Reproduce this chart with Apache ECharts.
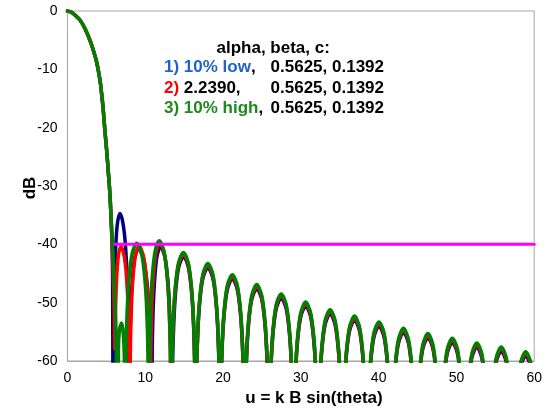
<!DOCTYPE html>
<html>
<head>
<meta charset="utf-8">
<script src="https://cdn.jsdelivr.net/npm/echarts/dist/echarts.min.js"></script>
<style>html,body{margin:0;padding:0;background:#fff}#c{width:545px;height:419px}</style>
</head>
<body>
<div id="c"></div>
<script>
// ---- data (u, dB) ----
const xTicks = [0, 10, 20, 30, 40, 50, 60];
const yTicks = [0, -10, -20, -30, -40, -50, -60];

const mainLobe = [[0,0],[0.5,-0.2],[0.96,-0.7],[1.6,-1.55],[2.24,-3.0],[2.88,-5.0],[3.31,-6.7],[3.74,-8.7],[4.17,-11.8],[4.38,-14.1],[4.6,-17.0],[4.8,-20.4],[5.03,-23.8],[5.23,-27.3],[5.45,-31.3]];

const blueNear = [[5.6,-35.5],[5.72,-40],[5.8,-46],[5.87,-80],[5.95,-55],[6.05,-46],[6.2,-40.5],[6.4,-36.6],[6.73,-34.7],[7.05,-35.8],[7.35,-38.6],[7.6,-43.5],[7.78,-50],[7.9,-80],[7.98,-59.9],[8.1,-52.3],[8.3,-46.8],[8.62,-42.5],[9.1,-40.7],[9.78,-42.5],[10.24,-46.8],[10.51,-52.3],[10.68,-59.9],[10.8,-80],[10.88,-59.6],[10.99,-52],[11.18,-46.5],[11.48,-42.2],[11.94,-40.4],[12.52,-42.2],[12.92,-46.5],[13.15,-52],[13.3,-59.6],[13.4,-80]];

const blueFar = [[13.5,-61.3],[13.66,-53.7],[13.9,-48.2],[14.3,-43.9],[14.93,-42.1],[15.53,-43.9],[15.95,-48.2],[16.2,-53.7],[16.36,-61.3],[16.47,-80],
[16.58,-63.2],[16.74,-55.6],[16.99,-50.1],[17.41,-45.8],[18.04,-44.0],[18.68,-45.8],[19.1,-50.1],[19.35,-55.6],[19.51,-63.2],[19.62,-80],
[19.73,-65.1],[19.89,-57.5],[20.14,-52],[20.56,-47.7],[21.19,-45.9],[21.82,-47.7],[22.24,-52],[22.49,-57.5],[22.65,-65.1],[22.76,-80],
[22.87,-66.8],[23.03,-59.2],[23.28,-53.7],[23.7,-49.4],[24.33,-47.6],[24.96,-49.4],[25.38,-53.7],[25.63,-59.2],[25.79,-66.8],[25.9,-80],
[26.01,-68.4],[26.17,-60.8],[26.42,-55.3],[26.84,-51],[27.47,-49.2],[28.11,-51],[28.53,-55.3],[28.78,-60.8],[28.94,-68.4],[29.05,-80],
[29.16,-69.8],[29.32,-62.2],[29.57,-56.7],[29.99,-52.4],[30.62,-50.6],[31.25,-52.4],[31.67,-56.7],[31.92,-62.2],[32.08,-69.8],[32.19,-80],
[32.3,-71.1],[32.46,-63.5],[32.71,-58],[33.13,-53.7],[33.76,-51.9],[34.39,-53.7],[34.81,-58],[35.06,-63.5],[35.22,-71.1],[35.33,-80],
[35.44,-72.2],[35.6,-64.6],[35.85,-59.1],[36.27,-54.8],[36.9,-53],[37.53,-54.8],[37.95,-59.1],[38.2,-64.6],[38.36,-72.2],[38.47,-80],
[38.58,-73.2],[38.74,-65.6],[38.99,-60.1],[39.41,-55.8],[40.04,-54],[40.68,-55.8],[41.1,-60.1],[41.35,-65.6],[41.51,-73.2],[41.62,-80],
[41.73,-74.3],[41.89,-66.7],[42.14,-61.2],[42.56,-56.9],[43.19,-55.1],[43.82,-56.9],[44.24,-61.2],[44.49,-66.7],[44.65,-74.3],[44.76,-80],
[44.87,-75.2],[45.03,-67.6],[45.28,-62.1],[45.7,-57.8],[46.33,-56],[46.96,-57.8],[47.38,-62.1],[47.63,-67.6],[47.79,-75.2],[47.9,-80],
[48.01,-76],[48.17,-68.4],[48.42,-62.9],[48.84,-58.6],[49.47,-56.8],[50.11,-58.6],[50.53,-62.9],[50.78,-68.4],[50.94,-76],[51.05,-80],
[51.16,-76.8],[51.32,-69.2],[51.57,-63.7],[51.99,-59.4],[52.62,-57.6],[53.25,-59.4],[53.67,-63.7],[53.92,-69.2],[54.08,-76.8],[54.19,-80],
[54.3,-77.5],[54.46,-69.9],[54.71,-64.4],[55.13,-60.1],[55.76,-58.3],[56.39,-60.1],[56.81,-64.4],[57.06,-69.9],[57.22,-77.5],[57.33,-80],
[57.44,-78.3],[57.6,-70.7],[57.85,-65.2],[58.27,-60.9],[58.9,-59.1],[59.54,-60.9],[59.96,-65.2],[60.21,-70.7],[60.37,-78.3],[60.48,-80]];

const redNear = [[5.65,-37],[5.85,-44],[6.0,-51],[6.09,-58],[6.2,-50],[6.35,-45],[6.55,-41.8],[6.86,-40.4],[7.15,-41.2],[7.45,-43.5],[7.7,-48],[7.88,-55],[7.98,-80],[8.07,-59.5],[8.19,-51.9],[8.38,-46.4],[8.71,-42.1],[9.2,-40.3],[9.78,-42.1],[10.17,-46.4],[10.4,-51.9],[10.52,-59.5],[10.62,-80],[10.71,-59],[10.83,-51.4],[11.03,-45.9],[11.36,-41.6],[11.85,-39.8],[12.44,-41.6],[12.84,-45.9],[13.08,-51.4],[13.23,-59],[13.33,-80]];

const redFar = [[13.44,-60.9],[13.6,-53.3],[13.85,-47.8],[14.27,-43.5],[14.9,-41.7],[15.53,-43.5],[15.95,-47.8],[16.2,-53.3],[16.36,-60.9],[16.47,-80],
[16.58,-62.8],[16.74,-55.2],[16.99,-49.7],[17.41,-45.4],[18.04,-43.6],[18.68,-45.4],[19.1,-49.7],[19.35,-55.2],[19.51,-62.8],[19.62,-80],
[19.73,-64.7],[19.89,-57.1],[20.14,-51.6],[20.56,-47.3],[21.19,-45.5],[21.82,-47.3],[22.24,-51.6],[22.49,-57.1],[22.65,-64.7],[22.76,-80],
[22.87,-66.4],[23.03,-58.8],[23.28,-53.3],[23.7,-49],[24.33,-47.2],[24.96,-49],[25.38,-53.3],[25.63,-58.8],[25.79,-66.4],[25.9,-80],
[26.01,-68],[26.17,-60.4],[26.42,-54.9],[26.84,-50.6],[27.47,-48.8],[28.11,-50.6],[28.53,-54.9],[28.78,-60.4],[28.94,-68],[29.05,-80],
[29.16,-69.4],[29.32,-61.8],[29.57,-56.3],[29.99,-52],[30.62,-50.2],[31.25,-52],[31.67,-56.3],[31.92,-61.8],[32.08,-69.4],[32.19,-80],
[32.3,-70.7],[32.46,-63.1],[32.71,-57.6],[33.13,-53.3],[33.76,-51.5],[34.39,-53.3],[34.81,-57.6],[35.06,-63.1],[35.22,-70.7],[35.33,-80],
[35.44,-71.8],[35.6,-64.2],[35.85,-58.7],[36.27,-54.4],[36.9,-52.6],[37.53,-54.4],[37.95,-58.7],[38.2,-64.2],[38.36,-71.8],[38.47,-80],
[38.58,-72.8],[38.74,-65.2],[38.99,-59.7],[39.41,-55.4],[40.04,-53.6],[40.68,-55.4],[41.1,-59.7],[41.35,-65.2],[41.51,-72.8],[41.62,-80],
[41.73,-73.9],[41.89,-66.3],[42.14,-60.8],[42.56,-56.5],[43.19,-54.7],[43.82,-56.5],[44.24,-60.8],[44.49,-66.3],[44.65,-73.9],[44.76,-80],
[44.87,-74.8],[45.03,-67.2],[45.28,-61.7],[45.7,-57.4],[46.33,-55.6],[46.96,-57.4],[47.38,-61.7],[47.63,-67.2],[47.79,-74.8],[47.9,-80],
[48.01,-75.6],[48.17,-68],[48.42,-62.5],[48.84,-58.2],[49.47,-56.4],[50.11,-58.2],[50.53,-62.5],[50.78,-68],[50.94,-75.6],[51.05,-80],
[51.16,-76.4],[51.32,-68.8],[51.57,-63.3],[51.99,-59],[52.62,-57.2],[53.25,-59],[53.67,-63.3],[53.92,-68.8],[54.08,-76.4],[54.19,-80],
[54.3,-77.1],[54.46,-69.5],[54.71,-64],[55.13,-59.7],[55.76,-57.9],[56.39,-59.7],[56.81,-64],[57.06,-69.5],[57.22,-77.1],[57.33,-80],
[57.44,-77.9],[57.6,-70.3],[57.85,-64.8],[58.27,-60.5],[58.9,-58.7],[59.54,-60.5],[59.96,-64.8],[60.21,-70.3],[60.37,-77.9],[60.48,-80]];

const greenNear = [[5.65,-36.5],[5.85,-42],[6.05,-48],[6.25,-56],[6.4,-80],[6.55,-58],[6.7,-54.5],[6.95,-53.5],[7.15,-55],[7.3,-59],[7.42,-80],[7.52,-59],[7.67,-51.4],[7.91,-45.9],[8.31,-41.6],[8.9,-39.8],[9.52,-41.6],[9.94,-45.9],[10.19,-51.4],[10.34,-59],[10.45,-80],[10.55,-58.6],[10.68,-51],[10.9,-45.5],[11.26,-41.2],[11.8,-39.4],[12.41,-41.2],[12.83,-45.5],[13.07,-51],[13.22,-58.6],[13.33,-80]];

const greenFar = [[13.44,-60.6],[13.6,-53],[13.85,-47.5],[14.27,-43.2],[14.9,-41.4],[15.53,-43.2],[15.95,-47.5],[16.2,-53],[16.36,-60.6],[16.47,-80],
[16.58,-62.5],[16.74,-54.9],[16.99,-49.4],[17.41,-45.1],[18.04,-43.3],[18.68,-45.1],[19.1,-49.4],[19.35,-54.9],[19.51,-62.5],[19.62,-80],
[19.73,-64.4],[19.89,-56.8],[20.14,-51.3],[20.56,-47.0],[21.19,-45.2],[21.82,-47.0],[22.24,-51.3],[22.49,-56.8],[22.65,-64.4],[22.76,-80],
[22.87,-66.1],[23.03,-58.5],[23.28,-53],[23.7,-48.7],[24.33,-46.9],[24.96,-48.7],[25.38,-53],[25.63,-58.5],[25.79,-66.1],[25.9,-80],
[26.01,-67.7],[26.17,-60.1],[26.42,-54.6],[26.84,-50.3],[27.47,-48.5],[28.11,-50.3],[28.53,-54.6],[28.78,-60.1],[28.94,-67.7],[29.05,-80],
[29.16,-69.1],[29.32,-61.5],[29.57,-56],[29.99,-51.7],[30.62,-49.9],[31.25,-51.7],[31.67,-56],[31.92,-61.5],[32.08,-69.1],[32.19,-80],
[32.3,-70.4],[32.46,-62.8],[32.71,-57.3],[33.13,-53],[33.76,-51.2],[34.39,-53],[34.81,-57.3],[35.06,-62.8],[35.22,-70.4],[35.33,-80],
[35.44,-71.5],[35.6,-63.9],[35.85,-58.4],[36.27,-54.1],[36.9,-52.3],[37.53,-54.1],[37.95,-58.4],[38.2,-63.9],[38.36,-71.5],[38.47,-80],
[38.58,-72.5],[38.74,-64.9],[38.99,-59.4],[39.41,-55.1],[40.04,-53.3],[40.68,-55.1],[41.1,-59.4],[41.35,-64.9],[41.51,-72.5],[41.62,-80],
[41.73,-73.6],[41.89,-66],[42.14,-60.5],[42.56,-56.2],[43.19,-54.4],[43.82,-56.2],[44.24,-60.5],[44.49,-66],[44.65,-73.6],[44.76,-80],
[44.87,-74.5],[45.03,-66.9],[45.28,-61.4],[45.7,-57.1],[46.33,-55.3],[46.96,-57.1],[47.38,-61.4],[47.63,-66.9],[47.79,-74.5],[47.9,-80],
[48.01,-75.3],[48.17,-67.7],[48.42,-62.2],[48.84,-57.9],[49.47,-56.1],[50.11,-57.9],[50.53,-62.2],[50.78,-67.7],[50.94,-75.3],[51.05,-80],
[51.16,-76.1],[51.32,-68.5],[51.57,-63],[51.99,-58.7],[52.62,-56.9],[53.25,-58.7],[53.67,-63],[53.92,-68.5],[54.08,-76.1],[54.19,-80],
[54.3,-76.8],[54.46,-69.2],[54.71,-63.7],[55.13,-59.4],[55.76,-57.6],[56.39,-59.4],[56.81,-63.7],[57.06,-69.2],[57.22,-76.8],[57.33,-80],
[57.44,-77.6],[57.6,-70],[57.85,-64.5],[58.27,-60.2],[58.9,-58.4],[59.54,-60.2],[59.96,-64.5],[60.21,-70],[60.37,-77.6],[60.48,-80]];

const limitLine = [[6.09,-40],[60,-40]];

const titleLine = 'alpha, beta, c:';
const caseLabels = ['1) 10% low', '2)', '3) 10% high'];
const caseRest = [',', ' 2.2390,', ','];
const paramText = '0.5625, 0.1392';

// ---- chart ----
const chart = echarts.init(document.getElementById('c'), null, {renderer: 'canvas'});
const FONT = '"Liberation Sans", Arial, sans-serif';
const lineS = (name, color, data, w, smooth) => ({
  name, type: 'line', data, showSymbol: false, symbol: 'none', clip: true, smooth: smooth,
  lineStyle: {color, width: w, cap: 'round', join: 'round'}, itemStyle: {color},
  silent: true, animation: false, z: 2
});

const labelColors = ['#1f62cc', '#ff0000', '#1e8a1e'];
const lineY = [67.5, 88.3, 108.5];
const graphics = [
  {type: 'text', x: 216.5, y: 48, style: {text: titleLine, font: 'bold 17px ' + FONT, fill: '#000', align: 'left', verticalAlign: 'middle'}}
];
for (let i = 0; i < 3; i++) {
  graphics.push({type: 'text', x: 164, y: lineY[i], style: {
    text: '{c|' + caseLabels[i] + '}{k|' + caseRest[i] + '}',
    align: 'left', verticalAlign: 'middle',
    rich: {c: {font: 'bold 17px ' + FONT, fill: labelColors[i]}, k: {font: 'bold 17px ' + FONT, fill: '#000'}}
  }});
  graphics.push({type: 'text', x: 384, y: lineY[i], style: {text: paramText, font: 'bold 17px ' + FONT, fill: '#000', align: 'right', verticalAlign: 'middle'}});
}
graphics.push({type: 'text', x: 314, y: 398, style: {text: 'u = k B sin(theta)', font: 'bold 17px ' + FONT, fill: '#000', align: 'center', verticalAlign: 'middle'}});
graphics.push({type: 'text', x: 30, y: 188, rotation: Math.PI / 2, style: {text: 'dB', font: 'bold 17px ' + FONT, fill: '#000', align: 'center', verticalAlign: 'middle'}});

chart.setOption({
  animation: false,
  backgroundColor: '#fff',
  grid: {left: 67.5, right: 10, top: 11, bottom: 58, show: true, borderColor: '#a6a6a6', borderWidth: 1, backgroundColor: 'transparent'},
  xAxis: {
    type: 'value', min: xTicks[0], max: xTicks[xTicks.length - 1], interval: 10,
    axisLine: {show: true, onZero: false, lineStyle: {color: '#a6a6a6', width: 1}},
    axisTick: {show: false}, splitLine: {show: false},
    axisLabel: {color: '#000', fontFamily: FONT, fontSize: 14, margin: 10}
  },
  yAxis: {
    type: 'value', min: yTicks[yTicks.length - 1], max: yTicks[0], interval: 10,
    axisLine: {show: true, onZero: false, lineStyle: {color: '#a6a6a6', width: 1}},
    axisTick: {show: false}, splitLine: {show: false},
    axisLabel: {color: '#000', fontFamily: FONT, fontSize: 14, margin: 10}
  },
  series: [
    lineS('1) 10% low', '#000080', mainLobe.concat(blueNear, blueFar), 3.5, 0.3),
    lineS('2) 2.2390', '#ff0000', mainLobe.concat(redNear, redFar), 3.5, 0.3),
    lineS('3) 10% high', '#008000', mainLobe.concat(greenNear, greenFar), 3.5, 0.3),
    lineS('limit', '#ff00ff', limitLine, 3, false)
  ],
  graphic: graphics
});
</script>
</body>
</html>
